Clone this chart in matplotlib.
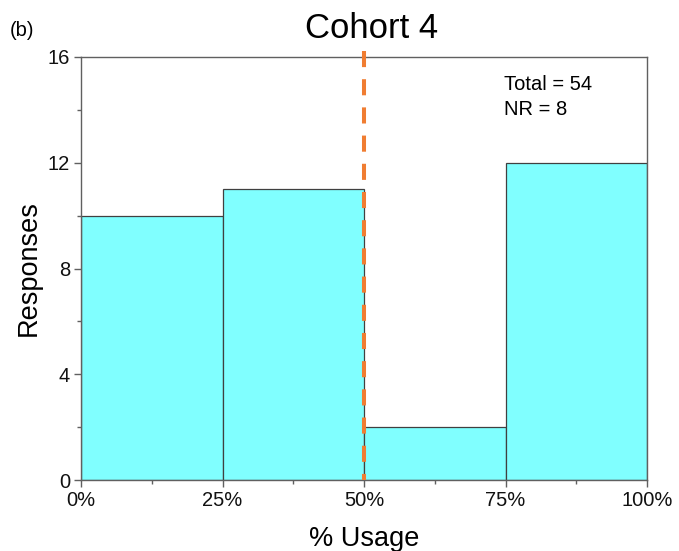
import matplotlib
matplotlib.use("Agg")
import matplotlib.pyplot as plt
from matplotlib.ticker import MultipleLocator, FuncFormatter

bin_edges = [0, 25, 50, 75, 100]
responses = [10, 11, 2, 12]
threshold = 50
title = "Cohort 4"
note_lines = ["Total = 54", "NR = 8"]

plt.rcParams['font.family'] = ['Liberation Sans', 'DejaVu Sans']

fig = plt.figure(figsize=(6.79, 5.51), dpi=100)
ax = fig.add_axes([81/679, 1-480/551, (647-81)/679, (480-57)/551])

lefts = bin_edges[:-1]
widths = [b - a for a, b in zip(bin_edges[:-1], bin_edges[1:])]
ax.bar(lefts, responses, width=widths, align='edge', color='#80FFFF',
       edgecolor='#404040', linewidth=0.9, zorder=2)

ax.plot([threshold, threshold], [16.23, 0], color='#F07D32', linewidth=2.9,
        linestyle=(0, (4, 3)), solid_capstyle='butt', dash_capstyle='butt',
        clip_on=False, zorder=3)

ax.set_xlim(0, 100)
ax.set_ylim(0, 16)
ax.xaxis.set_major_locator(MultipleLocator(25))
ax.xaxis.set_minor_locator(MultipleLocator(12.5))
ax.yaxis.set_major_locator(MultipleLocator(4))
ax.yaxis.set_minor_locator(MultipleLocator(2))
ax.xaxis.set_major_formatter(FuncFormatter(lambda v, p: f"{int(v)}%"))

spine_col = '#606060'
for s in ax.spines.values():
    s.set_color(spine_col)
    s.set_linewidth(1.0)
ax.tick_params(which='both', direction='out', color=spine_col, top=False, right=False,
               labelsize=14.5, labelcolor='#111111')
ax.tick_params(which='major', length=5, width=1, pad=3)
ax.tick_params(which='minor', length=3, width=1)

ax.set_xlabel("% Usage", fontsize=19.5, labelpad=11.5)
ax.set_ylabel("Responses", fontsize=19.5, labelpad=4.5)

fig.text(372/679, 1-28/551, title, fontsize=25, ha='center', va='center')
fig.text(10/679, 1-30/551, "(b)", fontsize=14.5, ha='left', va='center')

fig.text(504/679, 1-85/551, note_lines[0], fontsize=14.5, ha='left', va='center')
fig.text(504/679, 1-110/551, note_lines[1], fontsize=14.5, ha='left', va='center')

fig.savefig("out.png", dpi=100)
